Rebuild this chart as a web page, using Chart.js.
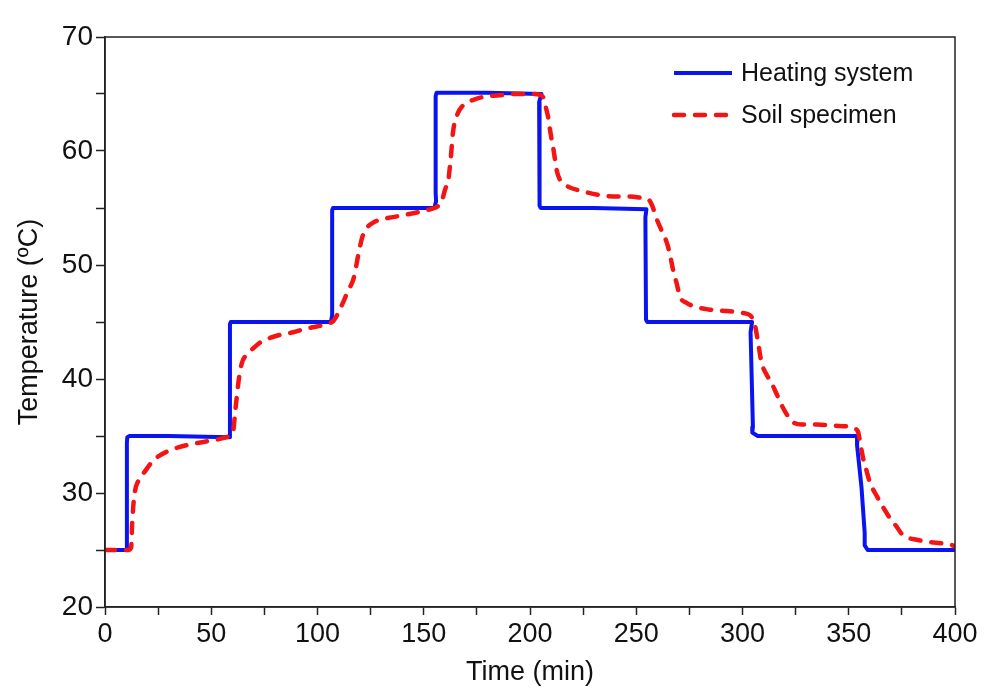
<!DOCTYPE html>
<html>
<head>
<meta charset="utf-8">
<script src="https://cdn.jsdelivr.net/npm/chart.js@4.4.1/dist/chart.umd.min.js"></script>
<style>
  html, body { margin: 0; padding: 0; background: #fff; }
  #wrap { width: 995px; height: 694px; }
</style>
</head>
<body>
<div id="wrap"><canvas id="tempChart" width="995" height="694"></canvas></div>
<script>
// heating system (set temperature) - time in min, temperature in C
const heatTime = [0, 10.0, 10.3, 10.3, 10.5, 11.5, 30, 58.5, 58.8, 58.8, 59.2, 80, 106.3, 106.9, 106.9, 107.3, 130, 155.0, 155.8, 155.6, 155.6, 156.0, 180, 205.4, 204.3, 204.5, 205.0, 230, 254.8, 254.3, 254.6, 255.2, 280, 304.5, 303.8, 304.9, 304.6, 307.2, 330, 354.2, 353.9, 356.0, 357.5, 357.5, 358.9, 400];
const heatTemp = [25, 25, 25.4, 34.4, 34.9, 35.0, 35.0, 34.9, 35.5, 44.8, 45.0, 45.0, 45.0, 45.6, 54.8, 55.0, 55.0, 55.0, 55.6, 56.3, 64.8, 65.1, 65.1, 65.0, 64.3, 55.2, 55.0, 55.0, 54.9, 54.2, 45.2, 45.0, 45.0, 45.0, 44.1, 35.8, 35.3, 35.0, 35.0, 35.0, 34.2, 30.5, 26.5, 25.4, 25.0, 25.0];

// soil specimen (measured)
const soilTime = [0, 11, 12.3, 12.8, 13.8, 15.5, 18.8, 22, 25, 30, 34.5, 41, 47, 53, 58.5,
  60.3, 61.2, 62, 63, 64.4, 66.5, 69.8, 73, 77.6, 83, 88.6, 94, 99.6, 104, 107.5,
  109.5, 112, 114.5, 116.8, 118, 119, 120, 121, 123, 126, 130, 135.6, 141, 146.6, 151, 155, 157.5,
  158.5, 160, 161.6, 162.5, 163, 163.5, 164.3, 166, 168, 171, 175, 180, 186, 193, 201, 205, 206.5,
  207.5, 208.5, 209.3, 210, 211, 211.8, 212.7, 214, 216, 218.8, 224, 234, 241, 247, 252, 256,
  257.5, 259.7, 262, 264.5, 266, 267.3, 269, 270.6, 273.5, 278.6, 284, 289.4, 296, 300, 303.5,
  305, 306, 307.5, 309, 311, 313.8, 316.5, 319, 321.5, 323.8, 328, 335, 343, 350.6, 353.5,
  354.5, 355.5, 356.7, 358.3, 360, 363, 366, 369, 372.7, 375, 377.4, 382, 388, 393, 397.6, 400];
const soilTemp = [25, 25, 25.2, 27.4, 29.8, 31.0, 31.9, 32.7, 33.2, 33.7, 34.0, 34.3, 34.5, 34.7, 35.0,
  35.4, 37.0, 38.4, 40.0, 41.4, 42.1, 42.7, 43.2, 43.6, 43.9, 44.1, 44.4, 44.6, 44.8, 45.1,
  45.7, 46.7, 47.8, 48.7, 49.7, 50.7, 51.6, 52.4, 53.2, 53.7, 54.0, 54.2, 54.4, 54.6, 54.8, 55.0, 55.3,
  55.6, 56.6, 57.5, 59.0, 60.0, 61.2, 62.3, 63.3, 63.9, 64.3, 64.6, 64.8, 64.9, 65.0, 65.0, 64.9, 64.6,
  63.8, 63.0, 62.0, 61.2, 60.2, 59.2, 58.2, 57.5, 57.1, 56.8, 56.5, 56.1, 56.0, 56.0, 55.9, 55.7,
  55.2, 54.0, 53.0, 51.9, 50.8, 49.6, 48.4, 47.2, 46.7, 46.3, 46.1, 46.0, 45.9, 45.8, 45.6,
  45.2, 44.6, 43.0, 41.4, 40.5, 39.6, 38.5, 37.5, 36.7, 36.2, 36.0, 36.0, 35.9, 35.8, 35.6,
  35.3, 34.3, 33.1, 32.0, 30.9, 29.8, 28.8, 27.9, 27.0, 26.4, 26.1, 25.9, 25.7, 25.6, 25.5, 25.3];

const xTicks = [0, 50, 100, 150, 200, 250, 300, 350, 400];
const yTicks = [20, 30, 40, 50, 60, 70];

const FONT = "'Liberation Sans', Arial, sans-serif";

function toPoints(xs, ys) {
  return xs.map((x, i) => ({ x: x, y: ys[i] }));
}

// box round the plot + legend drawn inside the plot area
const framePlugin = {
  id: 'frame',
  afterDatasetsDraw(chart) {
    const { ctx, chartArea } = chart;
    ctx.save();
    ctx.strokeStyle = '#222';
    ctx.lineWidth = 1.5;
    ctx.strokeRect(chartArea.left, chartArea.top, chartArea.right - chartArea.left, chartArea.bottom - chartArea.top);

    // legend
    const lx = chartArea.right - 283;
    let ly = chartArea.top + 36;
    ctx.font = '25px ' + FONT;
    ctx.textBaseline = 'middle';
    chart.data.datasets.forEach(ds => {
      ctx.beginPath();
      ctx.strokeStyle = ds.borderColor;
      ctx.lineWidth = ds.borderWidth;
      ctx.lineCap = ds.borderCapStyle || 'butt';
      ctx.setLineDash(ds.borderDash || []);
      ctx.moveTo(lx + 2, ly);
      ctx.lineTo(lx + 60, ly);
      ctx.stroke();
      ctx.setLineDash([]);
      ctx.fillStyle = '#111';
      ctx.fillText(ds.label, lx + 69, ly + 1);
      ly += 42;
    });
    ctx.restore();
  }
};

new Chart(document.getElementById('tempChart').getContext('2d'), {
  type: 'scatter',
  data: {
    datasets: [
      {
        label: 'Heating system',
        data: toPoints(heatTime, heatTemp),
        showLine: true,
        borderColor: '#0a14f0',
        borderWidth: 4,
        pointRadius: 0,
        tension: 0,
        borderJoinStyle: 'round',
        order: 2
      },
      {
        label: 'Soil specimen',
        data: toPoints(soilTime, soilTemp),
        showLine: true,
        borderColor: '#f51414',
        borderWidth: 4.5,
        borderDash: [10, 11],
        borderCapStyle: 'round',
        pointRadius: 0,
        cubicInterpolationMode: 'monotone',
        order: 1
      }
    ]
  },
  options: {
    responsive: false,
    animation: false,
    layout: { padding: { left: 0, top: 37, right: 40, bottom: 0 } },
    plugins: {
      legend: { display: false },
      tooltip: { enabled: false }
    },
    scales: {
      x: {
        type: 'linear',
        min: 0,
        max: 400,
        afterFit(scale) { scale.height = 87; },
        afterBuildTicks(scale) {
          const t = [];
          for (let v = 0; v <= 400; v += 25) t.push({ value: v });
          scale.ticks = t;
        },
        ticks: {
          color: '#111',
          font: { family: FONT, size: 27 },
          padding: 3,
          maxRotation: 0,
          autoSkip: false,
          callback: v => xTicks.includes(v) ? String(v) : ''
        },
        grid: { drawOnChartArea: false, tickLength: 8, tickColor: '#222', tickWidth: 1.5 },
        border: { color: '#222', width: 1.5 },
        title: {
          display: true,
          text: 'Time (min)',
          color: '#111',
          font: { family: FONT, size: 27 },
          padding: { top: 0, bottom: 5 }
        }
      },
      y: {
        min: 20,
        max: 70,
        afterFit(scale) { scale.width = 105; },
        afterBuildTicks(scale) {
          const t = [];
          for (let v = 20; v <= 70; v += 5) t.push({ value: v });
          scale.ticks = t;
        },
        ticks: {
          color: '#111',
          font: { family: FONT, size: 28 },
          padding: 3,
          autoSkip: false,
          callback: v => yTicks.includes(v) ? String(v) : ''
        },
        grid: { drawOnChartArea: false, tickLength: 9, tickColor: '#222', tickWidth: 1.5 },
        border: { color: '#222', width: 1.5 },
        title: {
          display: true,
          text: 'Temperature (ºC)',
          color: '#111',
          font: { family: FONT, size: 27 },
          padding: { top: 13, bottom: 0 }
        }
      }
    }
  },
  plugins: [framePlugin]
});
</script>
</body>
</html>
